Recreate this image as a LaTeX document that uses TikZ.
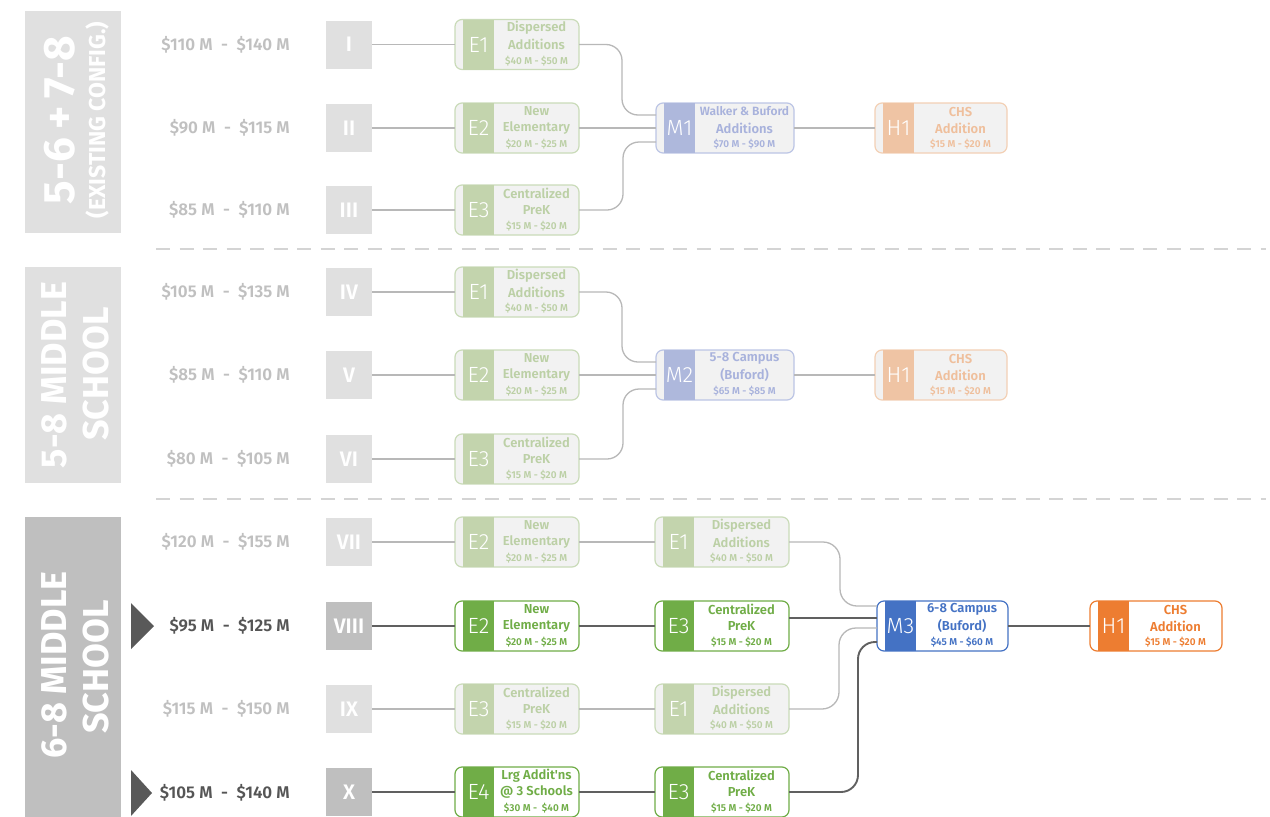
\documentclass[tikz,border=0pt]{standalone}
\usepackage{fontspec}
\setmainfont{Fira Sans}
\newfontfamily\lightf{Fira Sans Light}
\newfontfamily\semib{Fira Sans SemiBold}
\usetikzlibrary{calc}
\definecolor{secL}{HTML}{E0E0E0}
\definecolor{secD}{HTML}{BFBFBF}
\definecolor{costF}{HTML}{C0C0C0}
\definecolor{costD}{HTML}{555555}
\definecolor{triC}{HTML}{595959}
\definecolor{conF}{HTML}{B8B8B8}
\definecolor{conD}{HTML}{606060}
\definecolor{dashC}{HTML}{D4D4D4}
\definecolor{fgbd}{HTML}{CADBB9}\definecolor{fgbg}{HTML}{F2F2F2}\definecolor{fgst}{HTML}{C3D4AD}\definecolor{fgtx}{HTML}{BCD0A6}
\definecolor{vgbd}{HTML}{70AD47}\definecolor{vgbg}{HTML}{FFFFFF}\definecolor{vgst}{HTML}{70AD47}\definecolor{vgtx}{HTML}{70AD47}
\definecolor{fbbd}{HTML}{BCC5E5}\definecolor{fbbg}{HTML}{F2F2F2}\definecolor{fbst}{HTML}{AEB8DC}\definecolor{fbtx}{HTML}{A8B2DC}
\definecolor{vbbd}{HTML}{4472C4}\definecolor{vbbg}{HTML}{FFFFFF}\definecolor{vbst}{HTML}{4472C4}\definecolor{vbtx}{HTML}{4472C4}
\definecolor{fobd}{HTML}{F3D0B5}\definecolor{fobg}{HTML}{F2F2F2}\definecolor{fost}{HTML}{EFC4A4}\definecolor{fotx}{HTML}{EFBF9C}
\definecolor{vobd}{HTML}{ED7D31}\definecolor{vobg}{HTML}{FFFFFF}\definecolor{vost}{HTML}{ED7D31}\definecolor{votx}{HTML}{ED7D31}
\tikzset{
  obox/.style={rectangle, rounded corners=7pt, line width=1.2pt, minimum height=50pt, inner sep=0pt, outer sep=0pt},
  lab/.style={text=white, inner sep=0pt, font=\lightf\fontsize{22}{22}\selectfont},
  btitle/.style={inner sep=0pt, font=\semib\fontsize{13}{13}\selectfont},
  bcost/.style={inner sep=0pt, font=\semib\fontsize{10}{10}\selectfont},
  costtxt/.style={inner sep=0pt, anchor=east, font=\semib\fontsize{17}{17}\selectfont},
  roman/.style={minimum width=46pt, minimum height=48pt, inner sep=0pt, outer sep=0pt, text=white, font=\semib\fontsize{21}{21}\selectfont},
  secbox/.style={minimum width=96pt, inner sep=0pt},
  bigsec/.style={rotate=90, text=white, inner sep=0pt, font=\bfseries\fontsize{36}{36}\selectfont},
  fcon/.style={draw=conF, line width=1.3pt},
  dcon/.style={draw=conD, line width=1.9pt},
  sepline/.style={draw=dashC, line width=2pt, dash pattern=on 14pt off 9.5pt},
  tri/.style={fill=triC}
}
\newcommand\optbox[9]{%
  \node[obox, draw=#5bd, fill=#5bg, minimum width=#4pt, anchor=west] (#1) at (#2,#3) {};
  \fill[#5st] ($(#1.north west)+(8,0)$) rectangle ($(#1.south west)+(39,0)$);
  \node[lab] (#1l) at ($(#1.west)+(23.5,0)$) {#6};
  \node[btitle, text=#5tx] (#1a) at ($(#1.west)+({(39+#4)/2},-16.5)$) {#7};
  \node[btitle, text=#5tx] (#1b) at ($(#1.west)+({(39+#4)/2},0)$) {#8};
  \node[bcost, text=#5tx] (#1c) at ($(#1.west)+({(39+#4)/2},16.5)$) {#9};
}
\begin{document}
\begin{tikzpicture}[x=1pt,y=-1pt]
\useasboundingbox (0,0) rectangle (1270,817);
\fill[white] (0,0) rectangle (1270,817);
% separators
\draw[sepline] (156,249) -- (1266,249);
\draw[sepline] (156,499) -- (1266,499);
% section labels
\node[secbox, fill=secL, minimum height=222pt] (S1) at (73,122) {};
\node[bigsec, font=\bfseries\fontsize{44}{44}\selectfont] (S1a) at (60,120) {5-6\hspace{8pt}+\hspace{8pt}7-8};
\node[bigsec, font=\bfseries\fontsize{23}{23}\selectfont] (S1b) at (97,120) {(EXISTING CONFIG.)};
\node[secbox, fill=secL, minimum height=216pt] (S2) at (73,375) {};
\node[bigsec] (S2a) at (54,375) {5-8 MIDDLE};
\node[bigsec] (S2b) at (96,374) {SCHOOL};
\node[secbox, fill=secD, minimum height=302pt, anchor=north] (S3) at (73,517) {};
\node[bigsec] (S3a) at (54,665) {6-8 MIDDLE};
\node[bigsec] (S3b) at (96,667) {SCHOOL};
% triangles
\fill[tri] (131,603) -- (154,626) -- (131,649) -- cycle;
\fill[tri] (131,770) -- (152,793) -- (131,816) -- cycle;
% costs
\node[costtxt, text=costF] (c1) at (290,45) {\$110 M\enspace-\enspace\$140 M};
\node[costtxt, text=costF] (c2) at (290,128) {\$90 M\enspace-\enspace\$115 M};
\node[costtxt, text=costF] (c3) at (290,210) {\$85 M\enspace-\enspace\$110 M};
\node[costtxt, text=costF] (c4) at (290,292) {\$105 M\enspace-\enspace\$135 M};
\node[costtxt, text=costF] (c5) at (290,375) {\$85 M\enspace-\enspace\$110 M};
\node[costtxt, text=costF] (c6) at (290,459) {\$80 M\enspace-\enspace\$105 M};
\node[costtxt, text=costF] (c7) at (290,542) {\$120 M\enspace-\enspace\$155 M};
\node[costtxt, text=costD] (c8) at (290,626) {\$95 M\enspace-\enspace\$125 M};
\node[costtxt, text=costF] (c9) at (290,709) {\$115 M\enspace-\enspace\$150 M};
\node[costtxt, text=costD] (c10) at (290,793) {\$105 M\enspace-\enspace\$140 M};
% roman boxes
\node[roman, fill=secL] (r1) at (349,44.5) {I};
\node[roman, fill=secL] (r2) at (349,128) {II};
\node[roman, fill=secL] (r3) at (349,210) {III};
\node[roman, fill=secL] (r4) at (349,292) {IV};
\node[roman, fill=secL] (r5) at (349,375) {V};
\node[roman, fill=secL] (r6) at (349,459) {VI};
\node[roman, fill=secL] (r7) at (349,542) {VII};
\node[roman, fill=secD] (r8) at (349,626) {VIII};
\node[roman, fill=secL] (r9) at (349,709) {IX};
\node[roman, fill=secD] (r10) at (349,792) {X};
% section 1 boxes
\optbox{ea}{455}{44.5}{124}{fg}{E1}{Dispersed}{Additions}{\$40 M~-~\$50 M}
\optbox{eb}{455}{128}{124}{fg}{E2}{New}{Elementary}{\$20 M~-~\$25 M}
\optbox{ec}{455}{210}{124}{fg}{E3}{Centralized}{PreK}{\$15 M~-~\$20 M}
\optbox{ma}{656}{128}{138}{fb}{M1}{\fontsize{12}{12}\selectfont Walker \& Buford}{Additions}{\$70 M~-~\$90 M}
\optbox{ha}{875}{128}{132}{fo}{H1}{CHS}{Addition}{\$15 M~-~\$20 M}
% section 2 boxes
\optbox{ed}{455}{292}{124}{fg}{E1}{Dispersed}{Additions}{\$40 M~-~\$50 M}
\optbox{ee}{455}{375}{124}{fg}{E2}{New}{Elementary}{\$20 M~-~\$25 M}
\optbox{ef}{455}{459}{124}{fg}{E3}{Centralized}{PreK}{\$15 M~-~\$20 M}
\optbox{mb}{656}{375}{138}{fb}{M2}{5-8 Campus}{(Buford)}{\$65 M~-~\$85 M}
\optbox{hb}{875}{375}{132}{fo}{H1}{CHS}{Addition}{\$15 M~-~\$20 M}
% section 3 boxes
\optbox{eg}{455}{542}{124}{fg}{E2}{New}{Elementary}{\$20 M~-~\$25 M}
\optbox{eh}{455}{626}{124}{vg}{E2}{New}{Elementary}{\$20 M~-~\$25 M}
\optbox{ei}{455}{709}{124}{fg}{E3}{Centralized}{PreK}{\$15 M~-~\$20 M}
\optbox{ej}{455}{792}{124}{vg}{E4}{Lrg Addit'ns}{@ 3 Schools}{\$30 M~-~\ \$40 M}
\optbox{fa}{655}{542}{134}{fg}{E1}{Dispersed}{Additions}{\$40 M~-~\$50 M}
\optbox{fb}{655}{626}{134}{vg}{E3}{Centralized}{PreK}{\$15 M~-~\$20 M}
\optbox{fc}{655}{709}{134}{fg}{E1}{Dispersed}{Additions}{\$40 M~-~\$50 M}
\optbox{fd}{655}{792}{134}{vg}{E3}{Centralized}{PreK}{\$15 M~-~\$20 M}
\optbox{mc}{877}{626}{131}{vb}{M3}{6-8 Campus}{(Buford)}{\$45 M~-~\$60 M}
\optbox{hc}{1090}{626}{132}{vo}{H1}{CHS}{Addition}{\$15 M~-~\$20 M}
% connectors section 1
\draw[fcon] (r1.east) -- (ea.west);
\draw[fcon] (r2.east) -- (eb.west);
\draw[fcon] (r3.east) -- (ec.west);
\draw[fcon, rounded corners=16pt] (ea.east) -| (622,115) -- (ma.west |- 0,115);
\draw[fcon] (eb.east) -- (ma.west);
\draw[fcon, rounded corners=16pt] (ec.east) -| (623,142) -- (ma.west |- 0,142);
\draw[fcon] (ma.east) -- (ha.west);
% connectors section 2
\draw[fcon] (r4.east) -- (ed.west);
\draw[fcon] (r5.east) -- (ee.west);
\draw[fcon] (r6.east) -- (ef.west);
\draw[fcon, rounded corners=16pt] (ed.east) -| (622,362) -- (mb.west |- 0,362);
\draw[fcon] (ee.east) -- (mb.west);
\draw[fcon, rounded corners=16pt] (ef.east) -| (623,389) -- (mb.west |- 0,389);
\draw[fcon] (mb.east) -- (hb.west);
% connectors section 3
\draw[fcon] (r7.east) -- (eg.west);
\draw[dcon] (r8.east) -- (eh.west);
\draw[fcon] (r9.east) -- (ei.west);
\draw[dcon] (r10.east) -- (ej.west);
\draw[fcon] (eg.east) -- (fa.west);
\draw[dcon] (eh.east) -- (fb.west);
\draw[fcon] (ei.east) -- (fc.west);
\draw[dcon] (ej.east) -- (fd.west);
\draw[fcon, rounded corners=17pt] (fa.east) -| (840,606) -- (mc.west |- 0,606);
\draw[dcon] (fb.east |- 0,618) -- (mc.west |- 0,618);
\draw[fcon, rounded corners=17pt] (fc.east) -| (839,628) -- (mc.west |- 0,628);
\draw[dcon, rounded corners=17pt] (fd.east) -| (858,642) -- (mc.west |- 0,642);
\draw[dcon] (mc.east) -- (hc.west);
\end{tikzpicture}
\end{document}
